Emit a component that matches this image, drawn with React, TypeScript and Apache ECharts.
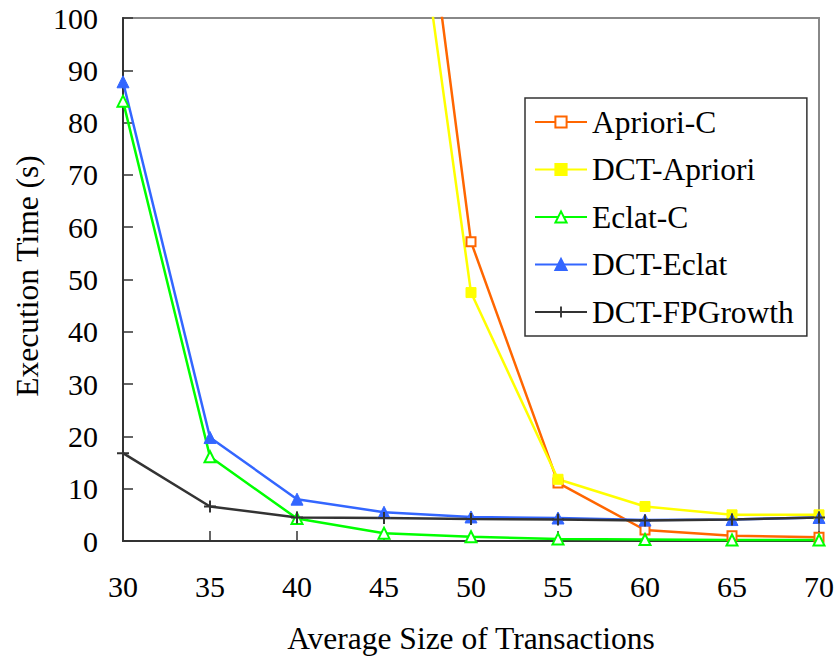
import React, { useEffect, useRef } from "react";
import * as echarts from "echarts";

const xValues = [30, 35, 40, 45, 50, 55, 60, 65, 70];
const seriesNames = ["Apriori-C", "DCT-Apriori", "Eclat-C", "DCT-Eclat", "DCT-FPGrowth"];
const aprioriC = [null, null, null, 186, 57.2, 11.1, 2.1, 1.0, 0.7];
const dctApriori = [null, null, null, 168, 47.5, 11.8, 6.6, 5.0, 5.0];
const eclatC = [84.1, 16.1, 4.3, 1.5, 0.8, 0.4, 0.3, 0.2, 0.2];
const dctEclat = [87.8, 19.8, 8.0, 5.5, 4.6, 4.4, 4.0, 4.1, 4.5];
const dctFPGrowth = [16.8, 6.6, 4.5, 4.4, 4.2, 4.1, 3.9, 4.1, 4.5];
const yTicks = { min: 0, max: 100, interval: 10 };
const xTicks = { min: 30, max: 70, interval: 5 };

const FONT = "Liberation Serif";
const PLUS = "path://M5,0 L7,0 L7,5 L12,5 L12,7 L7,7 L7,12 L5,12 L5,7 L0,7 L0,5 L5,5 Z";

function pairs(vals: (number | null)[]) {
  return xValues.map((x, i) => [x, vals[i]]);
}

export default function App() {
  const ref = useRef<HTMLDivElement>(null);
  useEffect(() => {
    if (!ref.current) return;
    const chart = echarts.init(ref.current, undefined, { renderer: "svg" });
    const mk = (
      name: string,
      vals: (number | null)[],
      color: string,
      symbol: string,
      size: number,
      hollow: boolean
    ) => ({
      name,
      type: "line",
      data: pairs(vals),
      symbol,
      symbolSize: size,
      showAllSymbol: true,
      clip: true,
      lineStyle: { color, width: 2.5 },
      itemStyle: hollow
        ? { color, borderColor: color, borderWidth: 2 }
        : { color, borderColor: color, borderWidth: symbol === PLUS ? 0 : 1 },
      emphasis: { disabled: true },
    });
    chart.setOption({
      animation: false,
      grid: {
        left: 123,
        right: 20,
        top: 18,
        bottom: 115,
        show: true,
        borderColor: "#888888",
        borderWidth: 2,
        containLabel: false,
        outerBoundsMode: "none",
      },
      xAxis: {
        type: "value",
        min: xTicks.min,
        max: xTicks.max,
        interval: xTicks.interval,
        splitLine: { show: false },
        axisLine: { onZero: false, lineStyle: { color: "#333333", width: 2 } },
        axisTick: { inside: true, length: 10, lineStyle: { color: "#333333", width: 1.5 } },
        axisLabel: { margin: 30, color: "#000", fontSize: 30, fontFamily: FONT },
      },
      yAxis: {
        type: "value",
        min: yTicks.min,
        max: yTicks.max,
        interval: yTicks.interval,
        splitLine: { show: false },
        axisLine: { show: true, lineStyle: { color: "#333333", width: 2 } },
        axisTick: { show: true, inside: true, length: 10, lineStyle: { color: "#333333", width: 1.5 } },
        axisLabel: { margin: 25, color: "#000", fontSize: 30, fontFamily: FONT },
      },
      legend: {
        data: seriesNames,
        orient: "vertical",
        left: 525,
        top: 98,
        padding: [8, 13, 8, 9],
        itemGap: 15.5,
        itemWidth: 52,
        itemHeight: 14,
        backgroundColor: "#ffffff",
        borderColor: "#333333",
        borderWidth: 1.5,
        borderRadius: 0,
        textStyle: { fontSize: 31.5, fontFamily: FONT, color: "#000", lineHeight: 30 },
      },
      graphic: [
        {
          type: "text",
          x: 471,
          y: 638,
          style: {
            text: "Average Size of Transactions",
            fontSize: 31.5,
            fontFamily: FONT,
            fill: "#000",
            align: "center",
            verticalAlign: "middle",
          },
        },
        {
          type: "text",
          x: 27,
          y: 276,
          rotation: Math.PI / 2,
          style: {
            text: "Execution Time (s)",
            fontSize: 31.5,
            fontFamily: FONT,
            fill: "#000",
            align: "center",
            verticalAlign: "middle",
          },
        },
      ],
      series: [
        mk(seriesNames[0], aprioriC, "#FF6600", "emptyRect", 9, true),
        mk(seriesNames[1], dctApriori, "#FFFF00", "rect", 10, false),
        mk(seriesNames[2], eclatC, "#00FF00", "emptyTriangle", 11, true),
        mk(seriesNames[3], dctEclat, "#3366FF", "triangle", 12, false),
        mk(seriesNames[4], dctFPGrowth, "#333333", PLUS, 12, false),
      ],
    });
    return () => chart.dispose();
  }, []);
  return <div ref={ref} style={{ width: 839, height: 656, position: "absolute", left: 0, top: 0 }} />;
}
